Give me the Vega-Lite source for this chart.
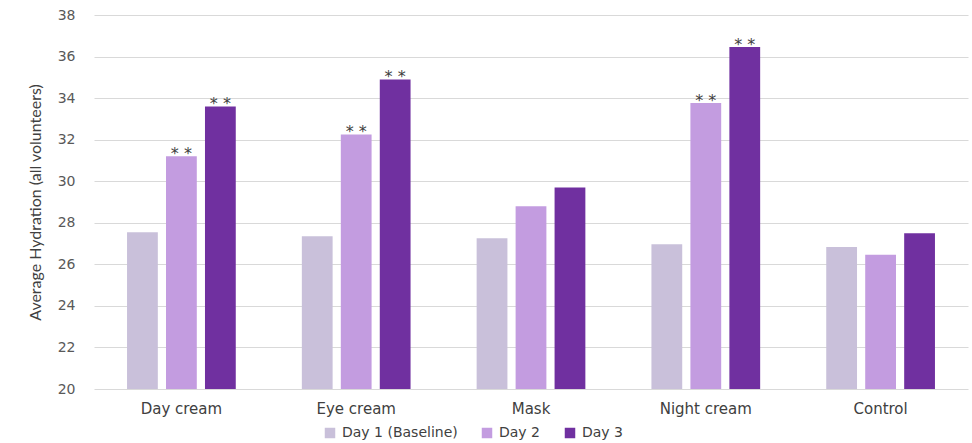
{
  "$schema": "https://vega.github.io/schema/vega-lite/v6.json",
  "width": 874,
  "height": 374,
  "autosize": {"type": "none"},
  "padding": {"left": 94, "top": 15, "right": 4, "bottom": 54},
  "background": "white",
  "config": {
    "view": {"stroke": null},
    "font": "DejaVu Sans",
    "axis": {"labelFont": "DejaVu Sans", "titleFont": "Lato"},
    "legend": {"labelFont": "DejaVu Sans"}
  },
  "data": {
    "values": [
      {"product": "Day cream", "day": "Day 1 (Baseline)", "value": 27.55, "sig": ""},
      {"product": "Day cream", "day": "Day 2", "value": 31.2, "sig": "* *"},
      {"product": "Day cream", "day": "Day 3", "value": 33.6, "sig": "* *"},
      {"product": "Eye cream", "day": "Day 1 (Baseline)", "value": 27.35, "sig": ""},
      {"product": "Eye cream", "day": "Day 2", "value": 32.25, "sig": "* *"},
      {"product": "Eye cream", "day": "Day 3", "value": 34.9, "sig": "* *"},
      {"product": "Mask", "day": "Day 1 (Baseline)", "value": 27.25, "sig": ""},
      {"product": "Mask", "day": "Day 2", "value": 28.8, "sig": ""},
      {"product": "Mask", "day": "Day 3", "value": 29.7, "sig": ""},
      {"product": "Night cream", "day": "Day 1 (Baseline)", "value": 26.97, "sig": ""},
      {"product": "Night cream", "day": "Day 2", "value": 33.77, "sig": "* *"},
      {"product": "Night cream", "day": "Day 3", "value": 36.46, "sig": "* *"},
      {"product": "Control", "day": "Day 1 (Baseline)", "value": 26.84, "sig": ""},
      {"product": "Control", "day": "Day 2", "value": 26.46, "sig": ""},
      {"product": "Control", "day": "Day 3", "value": 27.5, "sig": ""}
    ]
  },
  "encoding": {
    "x": {
      "field": "product",
      "type": "nominal",
      "sort": ["Day cream", "Eye cream", "Mask", "Night cream", "Control"],
      "scale": {"paddingInner": 0.378, "paddingOuter": 0.189},
      "axis": {
        "title": null,
        "labelAngle": 0,
        "ticks": false,
        "domain": false,
        "labelPadding": 12,
        "labelFontSize": 15,
        "labelColor": "#404040"
      }
    },
    "xOffset": {
      "field": "day",
      "type": "nominal",
      "sort": ["Day 1 (Baseline)", "Day 2", "Day 3"],
      "scale": {"paddingInner": 0.21, "paddingOuter": 0}
    },
    "y": {
      "field": "value",
      "type": "quantitative",
      "scale": {"domain": [20, 38], "zero": false, "nice": false},
      "axis": {
        "title": "Average Hydration (all volunteers)",
        "titleFontSize": 16,
        "titleFontWeight": "normal",
        "titleColor": "#404040",
        "titleX": -59,
        "titleY": 187,
        "titleBaseline": "middle",
        "titleAlign": "center",
        "titleAngle": -90,
        "values": [20, 22, 24, 26, 28, 30, 32, 34, 36, 38],
        "ticks": false,
        "domain": false,
        "labelPadding": 19,
        "labelFontSize": 14,
        "labelColor": "#595959",
        "gridColor": "#d9d9d9",
        "gridWidth": 1
      }
    }
  },
  "layer": [
    {
      "mark": {"type": "bar"},
      "encoding": {
        "y2": {"datum": 20},
        "color": {
          "field": "day",
          "type": "nominal",
          "sort": ["Day 1 (Baseline)", "Day 2", "Day 3"],
          "scale": {
            "domain": ["Day 1 (Baseline)", "Day 2", "Day 3"],
            "range": ["#c9c0da", "#c39ce0", "#7030a0"]
          },
          "legend": {
            "title": null,
            "orient": "none",
            "direction": "horizontal",
            "legendX": 229,
            "legendY": 411,
            "symbolType": "square",
            "symbolSize": 110,
            "symbolStrokeWidth": 0,
            "labelFontSize": 14,
            "labelColor": "#404040",
            "labelOffset": 5,
            "columnPadding": 22
          }
        }
      }
    },
    {
      "mark": {"type": "text", "font": "DejaVu Sans", "baseline": "alphabetic", "dy": 3, "fontSize": 16, "color": "#404040"},
      "encoding": {
        "text": {"field": "sig"}
      }
    }
  ]
}
